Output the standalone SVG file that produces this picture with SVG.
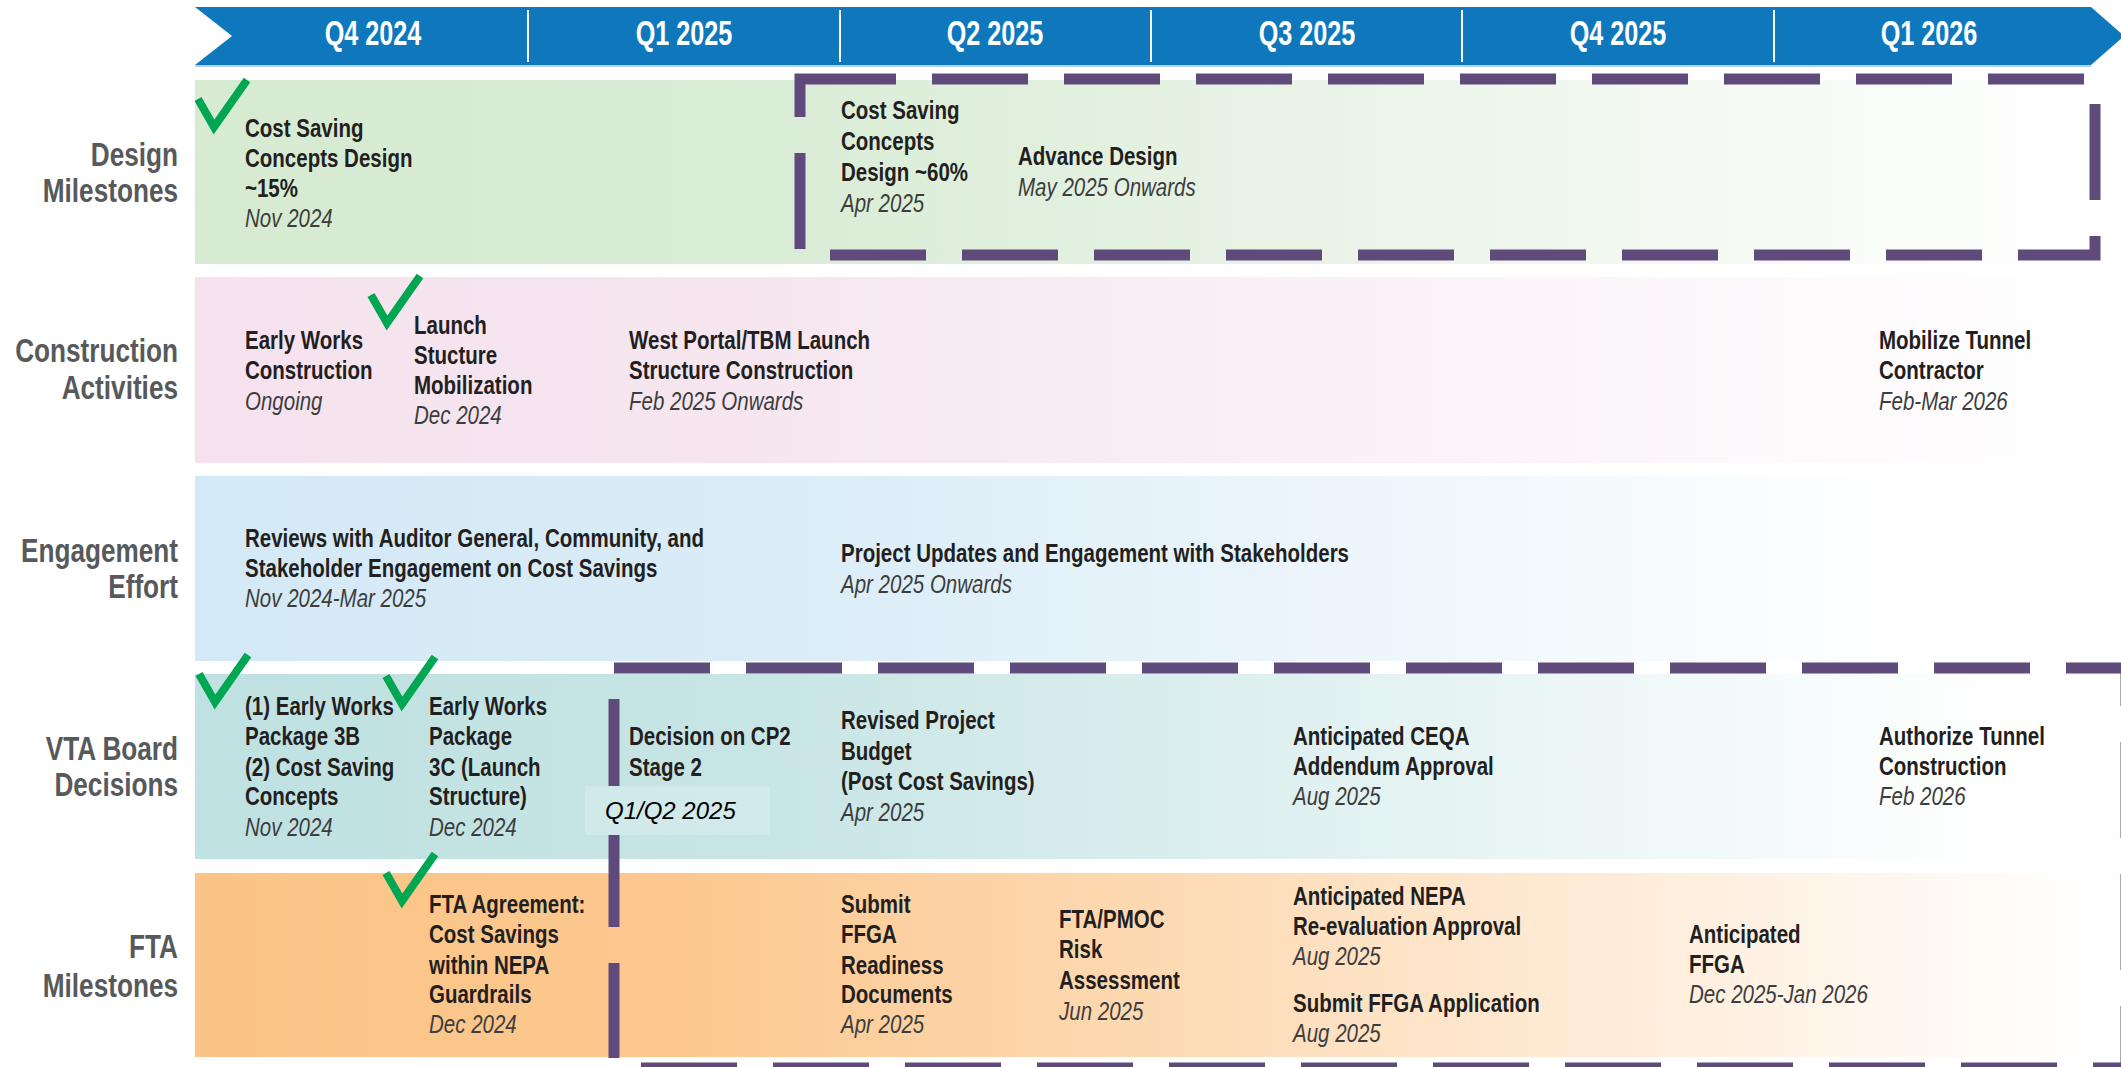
<svg xmlns="http://www.w3.org/2000/svg" xmlns:xlink="http://www.w3.org/1999/xlink" width="2121" height="1067" viewBox="0 0 2121 1067">
<style>
.hd{font-family:'Liberation Sans',Arial,sans-serif;font-weight:bold;font-size:35px;fill:#ffffff;text-anchor:middle}
.rl{font-family:'Liberation Sans',Arial,sans-serif;font-weight:bold;font-size:34px;fill:#58595b;text-anchor:end}
.b{font-family:'Liberation Sans',Arial,sans-serif;font-weight:bold;font-size:25px;fill:#231f20}
.i{font-family:'Liberation Sans',Arial,sans-serif;font-style:italic;font-size:25px;fill:#3d3d3d}
.q{font-family:'Liberation Sans',Arial,sans-serif;font-style:italic;font-size:24px;fill:#000000}
.dash{fill:none;stroke:#604a7c;stroke-width:11;stroke-dasharray:96 36}
.solid{fill:none;stroke:#604a7c;stroke-width:11}
.chk{fill:none;stroke:#00a651;stroke-width:8;stroke-linejoin:miter;stroke-linecap:butt}
</style>
<defs>
<linearGradient id="gGreen" x1="0" y1="0" x2="1" y2="0"><stop offset="0" stop-color="#d6ebd2"/><stop offset="0.3" stop-color="#d9ecd5"/><stop offset="1" stop-color="#ffffff"/></linearGradient>
<linearGradient id="gPink" x1="0" y1="0" x2="1" y2="0"><stop offset="0" stop-color="#f5e2ee"/><stop offset="0.3" stop-color="#f6e6f0"/><stop offset="1" stop-color="#ffffff"/></linearGradient>
<linearGradient id="gBlue" x1="0" y1="0" x2="1" y2="0"><stop offset="0" stop-color="#d4e9f6"/><stop offset="0.3" stop-color="#d9ecf7"/><stop offset="0.9" stop-color="#ffffff"/></linearGradient>
<linearGradient id="gTeal" x1="0" y1="0" x2="1" y2="0"><stop offset="0" stop-color="#bfe1e1"/><stop offset="0.3" stop-color="#c8e5e5"/><stop offset="0.95" stop-color="#ffffff"/></linearGradient>
<linearGradient id="gOrange" x1="0" y1="0" x2="1" y2="0"><stop offset="0" stop-color="#fbc486"/><stop offset="0.25" stop-color="#fcc88f"/><stop offset="0.5" stop-color="#fdd9b2"/><stop offset="1" stop-color="#ffffff"/></linearGradient>
<polyline id="check" points="3,22 19,50 52,3"/>
</defs>

<g id="header">
<polygon points="195,7 2091,7 2124,36 2091,65 195,65 232,36" fill="#0f78bd"/>
<line x1="195" y1="66" x2="2091" y2="66" stroke="#b3d3ec" stroke-width="2"/>
<g stroke="#ffffff" stroke-width="2">
<line x1="528" y1="10" x2="528" y2="62"/>
<line x1="840" y1="10" x2="840" y2="62"/>
<line x1="1151" y1="10" x2="1151" y2="62"/>
<line x1="1462" y1="10" x2="1462" y2="62"/>
<line x1="1774" y1="10" x2="1774" y2="62"/>
</g>
<g transform="translate(373,0) scale(0.72,1)"><text class="hd" x="0" y="45">Q4 2024</text></g>
<g transform="translate(684,0) scale(0.72,1)"><text class="hd" x="0" y="45">Q1 2025</text></g>
<g transform="translate(995,0) scale(0.72,1)"><text class="hd" x="0" y="45">Q2 2025</text></g>
<g transform="translate(1307,0) scale(0.72,1)"><text class="hd" x="0" y="45">Q3 2025</text></g>
<g transform="translate(1618,0) scale(0.72,1)"><text class="hd" x="0" y="45">Q4 2025</text></g>
<g transform="translate(1929,0) scale(0.72,1)"><text class="hd" x="0" y="45">Q1 2026</text></g>
</g>

<g id="bands">
<rect x="195" y="80" width="1898" height="184" fill="url(#gGreen)"/>
<rect x="195" y="277" width="1898" height="186" fill="url(#gPink)"/>
<rect x="195" y="476" width="1898" height="185" fill="url(#gBlue)"/>
<rect x="195" y="674" width="1898" height="185" fill="url(#gTeal)"/>
<rect x="195" y="873" width="1898" height="184" fill="url(#gOrange)"/>
</g>

<g id="row-labels">
<g transform="translate(178,0) scale(0.77,1)"><text class="rl" x="0" y="166">Design</text><text class="rl" x="0" y="202">Milestones</text></g>
<g transform="translate(178,0) scale(0.77,1)"><text class="rl" x="0" y="362">Construction</text><text class="rl" x="0" y="399">Activities</text></g>
<g transform="translate(178,0) scale(0.77,1)"><text class="rl" x="0" y="562">Engagement</text><text class="rl" x="0" y="598">Effort</text></g>
<g transform="translate(178,0) scale(0.77,1)"><text class="rl" x="0" y="760">VTA Board</text><text class="rl" x="0" y="796">Decisions</text></g>
<g transform="translate(178,0) scale(0.77,1)"><text class="rl" x="0" y="958">FTA</text><text class="rl" x="0" y="997">Milestones</text></g>
</g>

<g id="connectors">
<path class="dash" d="M800,79 H2095 V255 H800 Z"/>
<line class="dash" x1="614" y1="668" x2="2124" y2="668"/>
<line class="dash" x1="2126" y1="668" x2="2126" y2="1068" stroke-dashoffset="58"/>
<line class="dash" x1="641" y1="1068" x2="2124" y2="1068"/>
<line class="solid" x1="614" y1="699" x2="614" y2="786"/>
<line class="solid" x1="614" y1="835" x2="614" y2="927"/>
<line class="solid" x1="614" y1="963" x2="614" y2="1058"/>
</g>

<g id="q1q2-label">
<rect x="585" y="786" width="185" height="49" fill="#ffffff" fill-opacity="0.2"/>
<text class="q" x="605" y="819">Q1/Q2 2025</text>
</g>

<g id="checks" class="chk">
<use xlink:href="#check" x="195" y="77"/>
<use xlink:href="#check" x="368" y="273"/>
<use xlink:href="#check" x="196" y="652"/>
<use xlink:href="#check" x="383" y="654"/>
<use xlink:href="#check" x="383" y="851"/>
</g>

<g id="n-csd15" transform="translate(245,0) scale(0.82,1)"><text class="b" x="0" y="137">Cost Saving</text><text class="b" x="0" y="167">Concepts Design</text><text class="b" x="0" y="197">~15%</text><text class="i" x="0" y="227">Nov 2024</text></g>
<g id="n-csd60" transform="translate(841,0) scale(0.82,1)"><text class="b" x="0" y="119">Cost Saving</text><text class="b" x="0" y="150">Concepts</text><text class="b" x="0" y="181">Design ~60%</text><text class="i" x="0" y="212">Apr 2025</text></g>
<g id="n-adv" transform="translate(1018,0) scale(0.82,1)"><text class="b" x="0" y="165">Advance Design</text><text class="i" x="0" y="196">May 2025 Onwards</text></g>

<g id="n-ewc" transform="translate(245,0) scale(0.82,1)"><text class="b" x="0" y="349">Early Works</text><text class="b" x="0" y="379">Construction</text><text class="i" x="0" y="410">Ongoing</text></g>
<g id="n-lsm" transform="translate(414,0) scale(0.82,1)"><text class="b" x="0" y="334">Launch</text><text class="b" x="0" y="364">Stucture</text><text class="b" x="0" y="394">Mobilization</text><text class="i" x="0" y="424">Dec 2024</text></g>
<g id="n-wp" transform="translate(629,0) scale(0.82,1)"><text class="b" x="0" y="349">West Portal/TBM Launch</text><text class="b" x="0" y="379">Structure Construction</text><text class="i" x="0" y="410">Feb 2025 Onwards</text></g>
<g id="n-mtc" transform="translate(1879,0) scale(0.82,1)"><text class="b" x="0" y="349">Mobilize Tunnel</text><text class="b" x="0" y="379">Contractor</text><text class="i" x="0" y="410">Feb-Mar 2026</text></g>

<g id="n-rev" transform="translate(245,0) scale(0.82,1)"><text class="b" x="0" y="547">Reviews with Auditor General, Community, and</text><text class="b" x="0" y="577">Stakeholder Engagement on Cost Savings</text><text class="i" x="0" y="607">Nov 2024-Mar 2025</text></g>
<g id="n-pu" transform="translate(841,0) scale(0.82,1)"><text class="b" x="0" y="562">Project Updates and Engagement with Stakeholders</text><text class="i" x="0" y="593">Apr 2025 Onwards</text></g>

<g id="n-ew3b" transform="translate(245,0) scale(0.82,1)"><text class="b" x="0" y="715">(1) Early Works</text><text class="b" x="0" y="745">Package 3B</text><text class="b" x="0" y="776">(2) Cost Saving</text><text class="b" x="0" y="805">Concepts</text><text class="i" x="0" y="836">Nov 2024</text></g>
<g id="n-ew3c" transform="translate(429,0) scale(0.82,1)"><text class="b" x="0" y="715">Early Works</text><text class="b" x="0" y="745">Package</text><text class="b" x="0" y="776">3C (Launch</text><text class="b" x="0" y="805">Structure)</text><text class="i" x="0" y="836">Dec 2024</text></g>
<g id="n-cp2" transform="translate(629,0) scale(0.82,1)"><text class="b" x="0" y="745">Decision on CP2</text><text class="b" x="0" y="776">Stage 2</text></g>
<g id="n-rpb" transform="translate(841,0) scale(0.82,1)"><text class="b" x="0" y="729">Revised Project</text><text class="b" x="0" y="760">Budget</text><text class="b" x="0" y="790">(Post Cost Savings)</text><text class="i" x="0" y="821">Apr 2025</text></g>
<g id="n-ceqa" transform="translate(1293,0) scale(0.82,1)"><text class="b" x="0" y="745">Anticipated CEQA</text><text class="b" x="0" y="775">Addendum Approval</text><text class="i" x="0" y="805">Aug 2025</text></g>
<g id="n-atc" transform="translate(1879,0) scale(0.82,1)"><text class="b" x="0" y="745">Authorize Tunnel</text><text class="b" x="0" y="775">Construction</text><text class="i" x="0" y="805">Feb 2026</text></g>

<g id="n-fta" transform="translate(429,0) scale(0.82,1)"><text class="b" x="0" y="913">FTA Agreement:</text><text class="b" x="0" y="943">Cost Savings</text><text class="b" x="0" y="974">within NEPA</text><text class="b" x="0" y="1003">Guardrails</text><text class="i" x="0" y="1033">Dec 2024</text></g>
<g id="n-ffga" transform="translate(841,0) scale(0.82,1)"><text class="b" x="0" y="913">Submit</text><text class="b" x="0" y="943">FFGA</text><text class="b" x="0" y="974">Readiness</text><text class="b" x="0" y="1003">Documents</text><text class="i" x="0" y="1033">Apr 2025</text></g>
<g id="n-pmoc" transform="translate(1059,0) scale(0.82,1)"><text class="b" x="0" y="928">FTA/PMOC</text><text class="b" x="0" y="958">Risk</text><text class="b" x="0" y="989">Assessment</text><text class="i" x="0" y="1020">Jun 2025</text></g>
<g id="n-nepa" transform="translate(1293,0) scale(0.82,1)"><text class="b" x="0" y="905">Anticipated NEPA</text><text class="b" x="0" y="935">Re-evaluation Approval</text><text class="i" x="0" y="965">Aug 2025</text><text class="b" x="0" y="1012">Submit FFGA Application</text><text class="i" x="0" y="1042">Aug 2025</text></g>
<g id="n-affga" transform="translate(1689,0) scale(0.82,1)"><text class="b" x="0" y="943">Anticipated</text><text class="b" x="0" y="973">FFGA</text><text class="i" x="0" y="1003">Dec 2025-Jan 2026</text></g>
</svg>
